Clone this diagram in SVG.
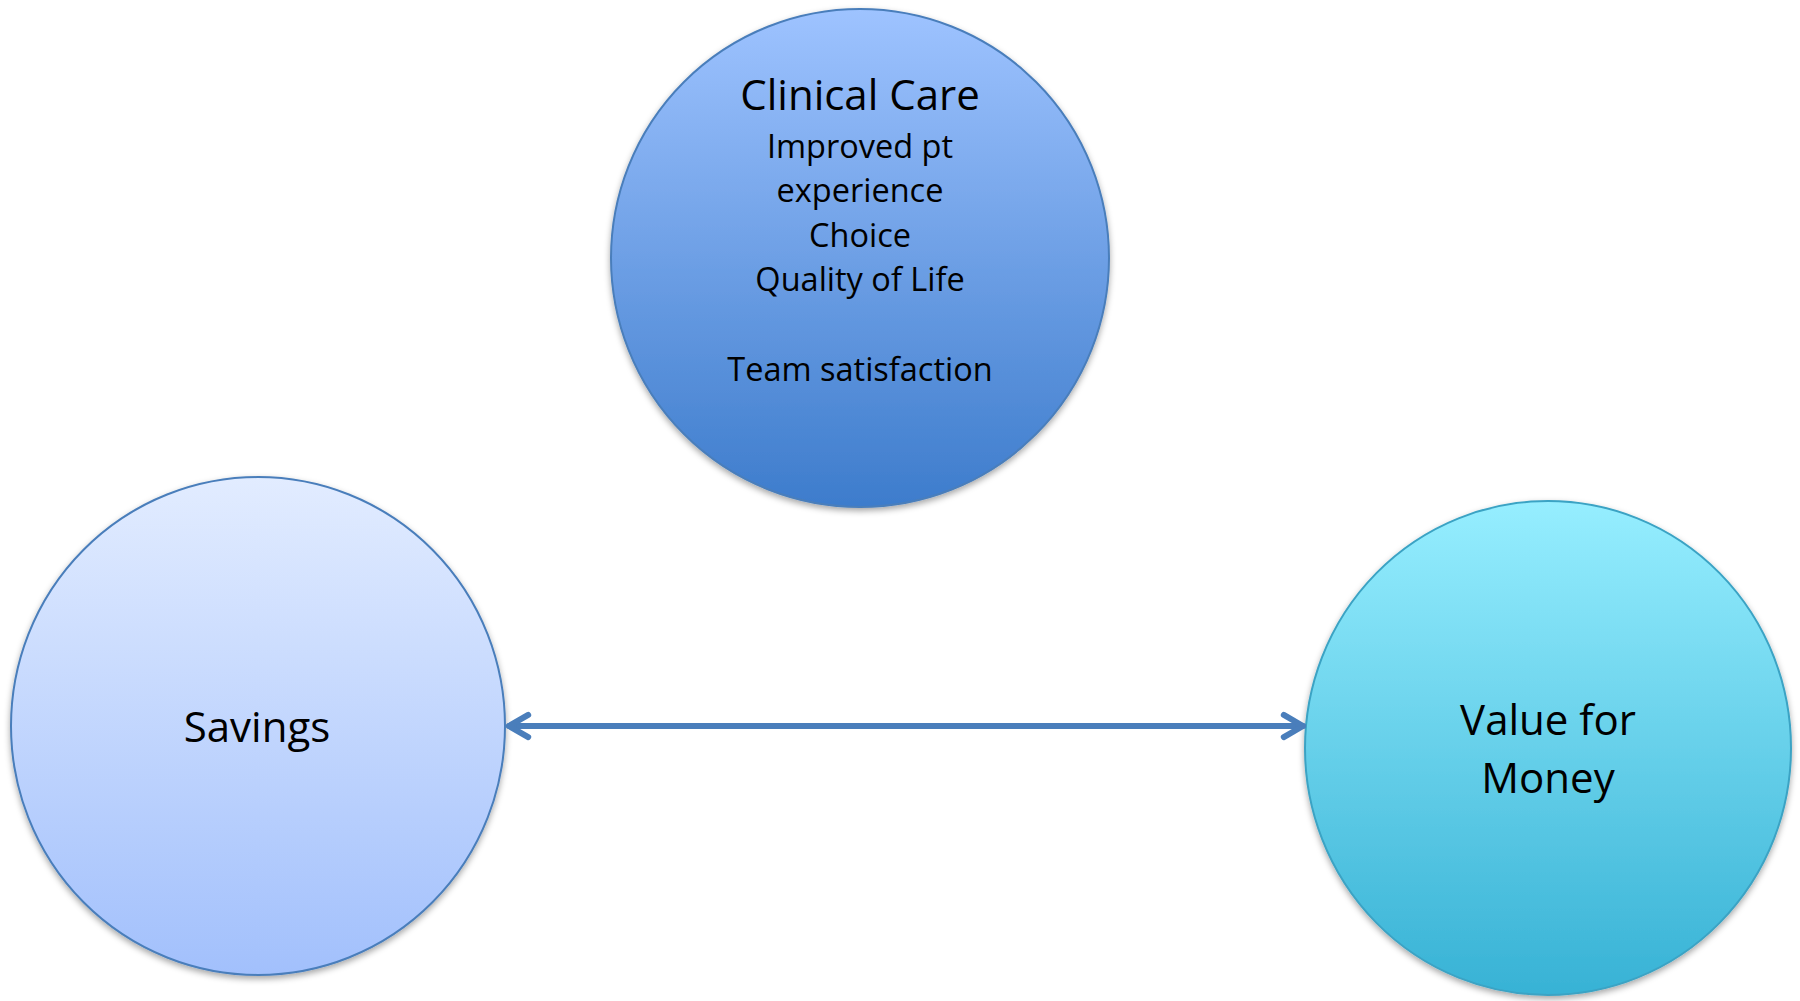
<svg xmlns="http://www.w3.org/2000/svg" width="1800" height="1001" viewBox="0 0 1800 1001">
  <style>
    .lbl { font-family: "Open Sans", "Lato", "Liberation Sans", sans-serif; fill: #000; text-anchor: middle; }
    .big { font-size: 42px; }
    .body { font-size: 32.5px; }
    .conn { stroke: #4a7ebb; stroke-width: 6; fill: none; stroke-linecap: round; stroke-linejoin: round; }
  </style>
  <defs>
    <linearGradient id="gTop" x1="0" y1="0" x2="0" y2="1">
      <stop offset="0" stop-color="#9ec3ff"/>
      <stop offset="1" stop-color="#3d7ccc"/>
    </linearGradient>
    <linearGradient id="gSav" x1="0" y1="0" x2="0" y2="1">
      <stop offset="0" stop-color="#e2ecff"/>
      <stop offset="1" stop-color="#a2c0fc"/>
    </linearGradient>
    <linearGradient id="gVfm" x1="0" y1="0" x2="0" y2="1">
      <stop offset="0" stop-color="#96eeff"/>
      <stop offset="1" stop-color="#37b2d5"/>
    </linearGradient>
    <filter id="shadow" x="-10%" y="-10%" width="120%" height="125%">
      <feDropShadow dx="0" dy="3" stdDeviation="3" flood-color="#000" flood-opacity="0.35"/>
    </filter>
    <marker id="chev" viewBox="0 0 10 10" refX="9" refY="5" markerWidth="5" markerHeight="5" orient="auto-start-reverse" markerUnits="strokeWidth">
      <path d="M2.6,1.3 L9,5 L2.6,8.7" fill="none" stroke="#4a7ebb" stroke-width="2" stroke-linecap="round" stroke-linejoin="round"/>
    </marker>
  </defs>
  <rect width="1800" height="1001" fill="#fff"/>

  <g id="node-clinical-care">
    <circle cx="860" cy="258" r="249" fill="url(#gTop)" stroke="#4a7ebb" stroke-width="2" filter="url(#shadow)"/>
    <text class="lbl big" x="860" y="110">Clinical Care</text>
    <text class="lbl body" x="860" y="157.5">Improved pt</text>
    <text class="lbl body" x="860" y="202">experience</text>
    <text class="lbl body" x="860" y="246.7">Choice</text>
    <text class="lbl body" x="860" y="291.4">Quality of Life</text>
    <text class="lbl body" x="860" y="380.8">Team satisfaction</text>
  </g>

  <g id="node-savings">
    <ellipse cx="258" cy="726" rx="247" ry="249" fill="url(#gSav)" stroke="#4a7ebb" stroke-width="2" filter="url(#shadow)"/>
    <text class="lbl big" x="257" y="742">Savings</text>
  </g>

  <g id="node-value-for-money">
    <ellipse cx="1548" cy="748" rx="243" ry="247" fill="url(#gVfm)" stroke="#3ba3c4" stroke-width="2" filter="url(#shadow)"/>
    <text class="lbl big" x="1548" y="735">Value for</text>
    <text class="lbl big" x="1548" y="793">Money</text>
  </g>

  <g id="connectors">
    <line class="conn" x1="509" y1="726" x2="1303" y2="726" marker-start="url(#chev)" marker-end="url(#chev)"/>
  </g>
</svg>
